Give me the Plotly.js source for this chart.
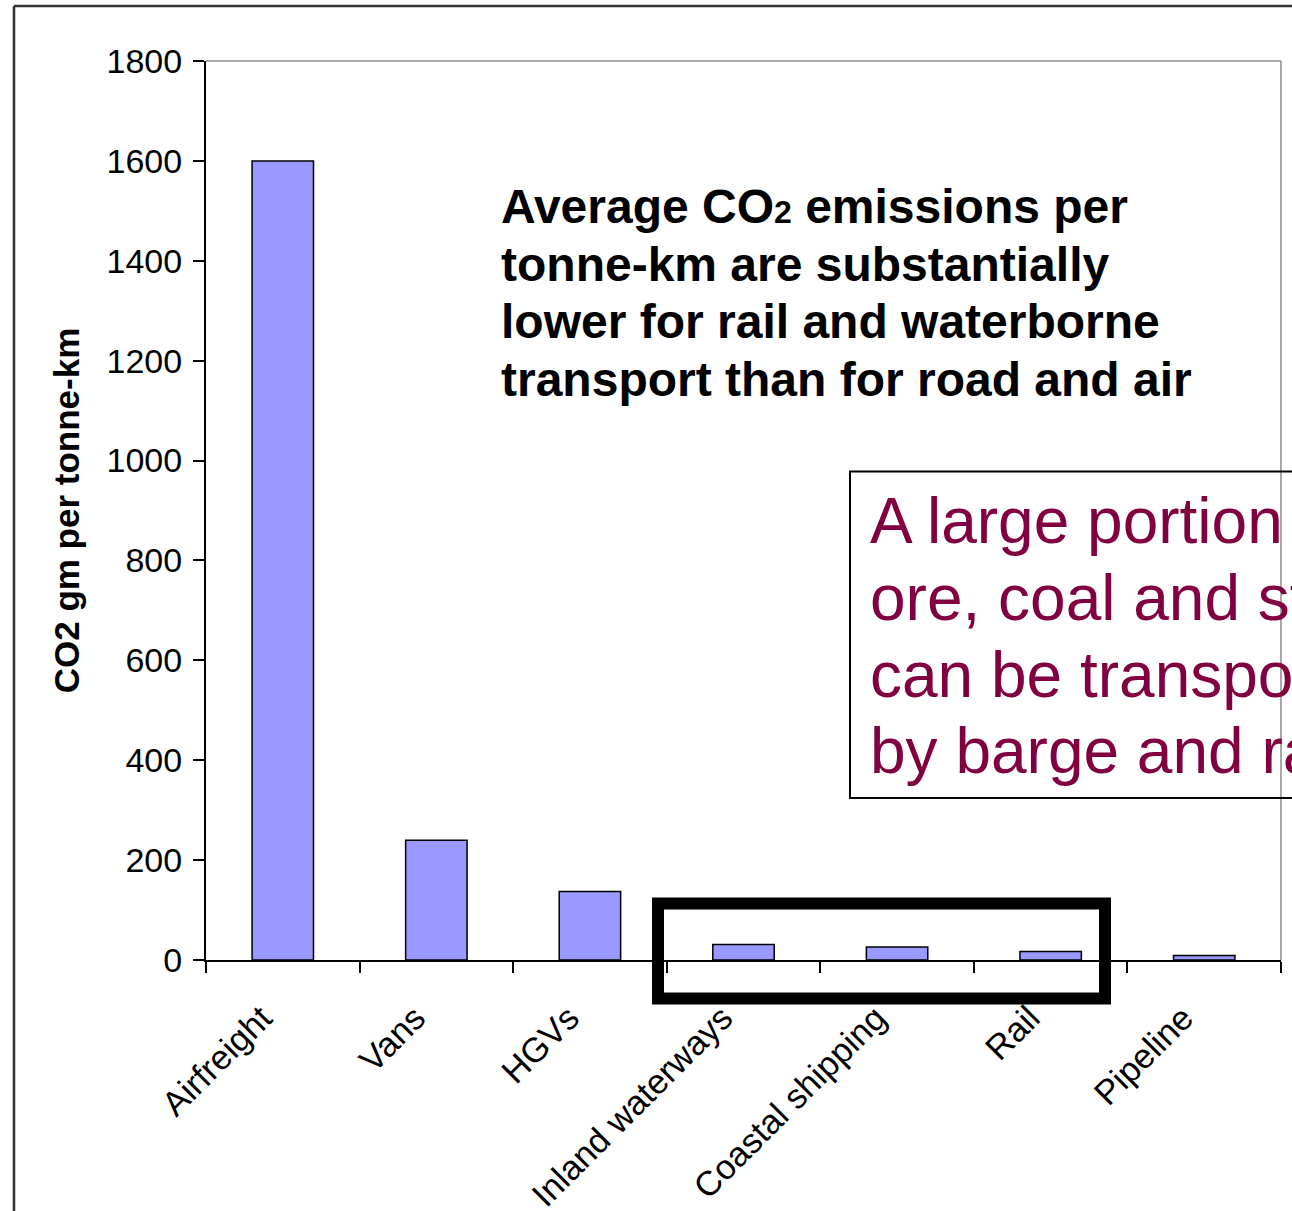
<!DOCTYPE html>
<html>
<head>
<meta charset="utf-8">
<script src="https://cdn.plot.ly/plotly-3.0.1.min.js"></script>
<style>
  html, body { margin: 0; padding: 0; background: #ffffff; }
  #chart { width: 1292px; height: 1211px; }
</style>
</head>
<body>
<div id="chart"></div>
<script>
// ---- data ----
const categories = ['Airfreight', 'Vans', 'HGVs', 'Inland waterways', 'Coastal shipping', 'Rail', 'Pipeline'];
const co2PerTonneKm = [1600, 240, 137, 31, 26, 17, 9];
const yAxisTitle = 'CO2 gm per tonne-km';
const headlineLines = [
  'Average CO<span style="font-size:32px">2</span> emissions per',
  'tonne-km are substantially',
  'lower for rail and waterborne',
  'transport than for road and air'
];
const noteLines = [
  'A large portion of iron',
  'ore, coal and steel',
  'can be transported',
  'by barge and rail'
];

// ---- layout geometry (pixels) ----
const W = 1292, H = 1211;
const L = 206, R = 1281, T = 61, B = 960;
const px = x => (x - L) / (R - L);
const py = y => (B - y) / (B - T);
const FONT = 'Liberation Sans, Arial, sans-serif';

const annotations = [];
const headBase = [223, 281, 338.5, 396];
headlineLines.forEach((t, i) => {
  annotations.push({
    xref: 'paper', yref: 'paper', x: px(499), y: py(headBase[i] - 16.8),
    xanchor: 'left', yanchor: 'middle', align: 'left', showarrow: false,
    text: t, font: { family: FONT, size: 48, color: '#000000', weight: 'bold' }
  });
});
const noteBase = [543, 620, 697, 773];
noteLines.forEach((t, i) => {
  annotations.push({
    xref: 'paper', yref: 'paper', x: px(868), y: py(noteBase[i] - 22.5),
    xanchor: 'left', yanchor: 'middle', align: 'left', showarrow: false,
    text: t, font: { family: FONT, size: 64, color: '#800040' }
  });
});

const shapes = [
  // outer frame (left and top edges visible)
  { type: 'line', xref: 'paper', yref: 'paper', x0: px(14), y0: py(6), x1: px(14), y1: py(1300), line: { color: '#333333', width: 2.5 } },
  { type: 'line', xref: 'paper', yref: 'paper', x0: px(14), y0: py(6), x1: px(1400), y1: py(6), line: { color: '#333333', width: 2.5 } },
  // plot-area border, top and right (grey)
  { type: 'line', xref: 'paper', yref: 'paper', x0: 0, y0: 1, x1: 1, y1: 1, line: { color: '#8c8c8c', width: 1.5 } },
  { type: 'line', xref: 'paper', yref: 'paper', x0: 1, y0: 0, x1: 1, y1: 1, line: { color: '#8c8c8c', width: 1.5 } },
  // note box
  { type: 'rect', xref: 'paper', yref: 'paper', x0: px(850), y0: py(798), x1: px(1450), y1: py(471.5), line: { color: '#000000', width: 2 }, fillcolor: 'rgba(0,0,0,0)' },
  // highlight box around waterborne + rail
  { type: 'rect', xref: 'paper', yref: 'paper', x0: px(658), y0: py(998.5), x1: px(1105), y1: py(903.5), line: { color: '#000000', width: 12 }, fillcolor: 'rgba(0,0,0,0)' }
];

const trace = {
  type: 'bar',
  x: categories,
  y: co2PerTonneKm,
  marker: { color: '#9999ff', line: { color: '#000000', width: 1.5 } },
  hoverinfo: 'x+y'
};

const layout = {
  width: W, height: H,
  margin: { l: L, r: W - R, t: T, b: H - B, pad: 0 },
  paper_bgcolor: '#ffffff',
  plot_bgcolor: '#ffffff',
  showlegend: false,
  bargap: 0.6,
  font: { family: FONT, color: '#000000' },
  xaxis: {
    type: 'category',
    showline: true, linecolor: '#000000', linewidth: 2,
    ticks: 'outside', ticklen: 11, tickwidth: 2, tickcolor: '#000000',
    tickson: 'boundaries',
    tickangle: -45,
    ticklabelstandoff: 22,
    ticklabelshift: -21,
    tickfont: { family: FONT, size: 34.5, color: '#000000' },
    showgrid: false, zeroline: false, automargin: false
  },
  yaxis: {
    range: [0, 1800],
    dtick: 200,
    showline: true, linecolor: '#000000', linewidth: 2,
    ticks: 'outside', ticklen: 11, tickwidth: 2, tickcolor: '#000000',
    tickfont: { family: FONT, size: 34, color: '#000000' },
    ticklabelstandoff: 4,
    showgrid: false, zeroline: false, automargin: false,
    title: { text: yAxisTitle, standoff: 16, font: { family: FONT, size: 35, color: '#000000', weight: 'bold' } }
  },
  annotations: annotations,
  shapes: shapes
};

Plotly.newPlot('chart', [trace], layout, { displayModeBar: false, staticPlot: true });
</script>
</body>
</html>
